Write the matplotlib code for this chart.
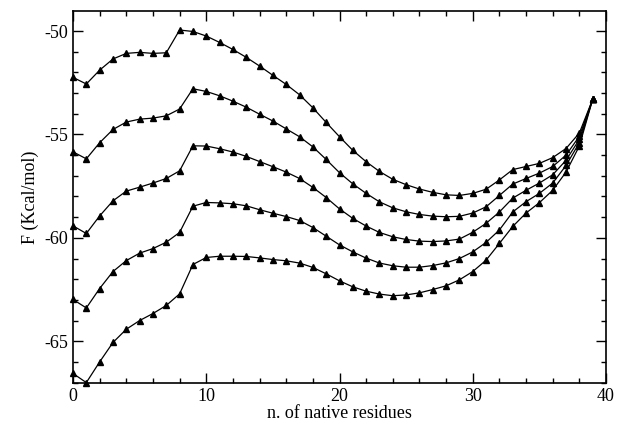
import matplotlib
matplotlib.use("Agg")
import matplotlib.pyplot as plt
from matplotlib.ticker import MultipleLocator
import numpy as np

x = list(range(40))

curve1 = [-52.24, -52.56, -51.89, -51.35, -51.08, -51.03, -51.08, -51.05, -49.95, -50.02,
          -50.24, -50.55, -50.89, -51.27, -51.69, -52.14, -52.58, -53.08, -53.71, -54.42,
          -55.11, -55.77, -56.32, -56.79, -57.17, -57.43, -57.64, -57.80, -57.92, -57.95,
          -57.85, -57.65, -57.20, -56.70, -56.55, -56.40, -56.12, -55.68, -54.93, -53.30]

curve2 = [-55.84, -56.18, -55.40, -54.76, -54.40, -54.26, -54.21, -54.10, -53.77, -52.79,
          -52.92, -53.13, -53.39, -53.68, -54.02, -54.35, -54.73, -55.11, -55.60, -56.21,
          -56.85, -57.39, -57.85, -58.26, -58.55, -58.74, -58.87, -58.95, -58.98, -58.96,
          -58.80, -58.50, -57.95, -57.40, -57.13, -56.87, -56.55, -56.00, -55.09, -53.30]

curve3 = [-59.42, -59.79, -58.94, -58.21, -57.74, -57.55, -57.35, -57.13, -56.76, -55.55,
          -55.56, -55.69, -55.85, -56.06, -56.31, -56.56, -56.82, -57.13, -57.56, -58.05,
          -58.60, -59.06, -59.43, -59.74, -59.95, -60.08, -60.16, -60.18, -60.15, -60.06,
          -59.73, -59.30, -58.75, -58.08, -57.70, -57.35, -56.95, -56.25, -55.24, -53.30]

curve4 = [-62.98, -63.39, -62.45, -61.63, -61.10, -60.74, -60.52, -60.21, -59.74, -58.47,
          -58.29, -58.31, -58.35, -58.45, -58.64, -58.81, -58.97, -59.16, -59.50, -59.92,
          -60.34, -60.68, -60.98, -61.22, -61.35, -61.42, -61.42, -61.34, -61.21, -61.00,
          -60.68, -60.22, -59.62, -58.75, -58.25, -57.85, -57.35, -56.50, -55.40, -53.30]

curve5 = [-66.56, -67.00, -66.00, -65.06, -64.42, -64.00, -63.66, -63.27, -62.71, -61.29,
          -60.95, -60.89, -60.89, -60.90, -60.97, -61.05, -61.11, -61.22, -61.43, -61.74,
          -62.08, -62.37, -62.58, -62.72, -62.80, -62.76, -62.66, -62.50, -62.32, -62.03,
          -61.63, -61.08, -60.27, -59.45, -58.80, -58.30, -57.70, -56.82, -55.56, -53.30]

series = [curve1, curve2, curve3, curve4, curve5]

xlabel = "n. of native residues"
ylabel = "F (Kcal/mol)"

plt.rcParams['font.family'] = ['Liberation Serif', 'DejaVu Serif']
plt.rcParams['axes.unicode_minus'] = False

fig = plt.figure(figsize=(6.23, 4.28), dpi=100)
ax = fig.add_axes([73/623, 1-383/428, (606-73)/623, (383-11)/428])

for s in series:
    ax.plot(x, s, color='black', linewidth=0.9, marker='^', markersize=5,
            markerfacecolor='black', markeredgecolor='black', clip_on=False, zorder=3)

ax.set_xlim(0, 40)
ax.set_ylim(-67.02, -49.03)
ax.xaxis.set_major_locator(MultipleLocator(10))
ax.xaxis.set_minor_locator(MultipleLocator(2))
ax.yaxis.set_major_locator(MultipleLocator(5))
ax.yaxis.set_minor_locator(MultipleLocator(1))
ax.tick_params(which='both', direction='in', top=True, right=True, width=1.0, labelsize=13)
ax.tick_params(which='major', length=7)
ax.tick_params(which='minor', length=3.5)
for sp in ax.spines.values():
    sp.set_linewidth(1.2)

ax.set_xlabel(xlabel, fontsize=13, labelpad=0)
ax.set_ylabel(ylabel, fontsize=13, labelpad=4)

fig.savefig("out.png", dpi=100)
